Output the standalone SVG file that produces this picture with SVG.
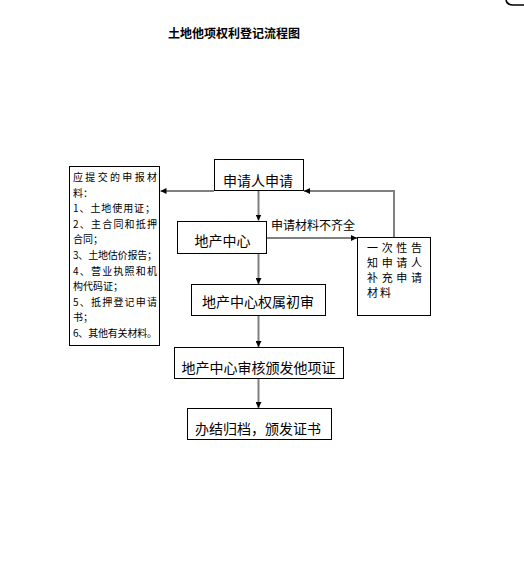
<svg xmlns="http://www.w3.org/2000/svg" width="524" height="578" viewBox="0 0 524 578">
<defs>
<style>
text{font-family:"Noto Sans CJK SC","Liberation Sans",sans-serif;fill:#000}
.box{fill:#fff;stroke:#000;stroke-width:1}
.main{font-size:14px;text-anchor:middle}
.small{font-size:10px}
.mid{font-size:11px}
.con{fill:none;stroke:#808080;stroke-width:2}
</style>
<marker id="ah" viewBox="0 0 10 10" refX="10" refY="5" markerWidth="6" markerHeight="6" markerUnits="userSpaceOnUse" orient="auto">
<path d="M0,0 L10,5 L0,10 Z" fill="#000"/>
</marker>
</defs>
<rect width="524" height="578" fill="#fff"/>
<path d="M506,0 Q507,5 513,5 L524,5" fill="none" stroke="#000" stroke-width="1.5"/>
<text x="168" y="37.5" style="font-size:12px;font-weight:bold">土地他项权利登记流程图</text>

<g id="connectors">
<path class="con" d="M258.5,191 V220.5" marker-end="url(#ah)"/>
<path class="con" d="M214,191 H160.5" marker-end="url(#ah)"/>
<path class="con" d="M267,238 H357" marker-end="url(#ah)"/>
<path class="con" d="M394,237 V191 H304" marker-end="url(#ah)"/>
<path class="con" d="M258.5,254 V284" marker-end="url(#ah)"/>
<path class="con" d="M258.5,316 V347" marker-end="url(#ah)"/>
<path class="con" d="M258.5,379 V408" marker-end="url(#ah)"/>
<text x="271" y="229.5" style="font-size:12px">申请材料不齐全</text>
</g>

<g id="materials">
<rect class="box" x="69.5" y="166.5" width="90" height="179"/>
<text class="small" x="73" y="181" textLength="84" lengthAdjust="spacing">应提交的申报材</text>
<text class="small" x="73" y="196.6">料：</text>
<text class="small" x="73" y="212.2" textLength="82" lengthAdjust="spacing">1、土地使用证；</text>
<text class="small" x="73" y="227.8" textLength="84" lengthAdjust="spacing">2、主合同和抵押</text>
<text class="small" x="73" y="243.4">合同；</text>
<text class="small" x="73" y="259" textLength="84" lengthAdjust="spacing">3、土地估价报告；</text>
<text class="small" x="73" y="274.6" textLength="84" lengthAdjust="spacing">4、营业执照和机</text>
<text class="small" x="73" y="290.2">构代码证；</text>
<text class="small" x="73" y="305.8" textLength="84" lengthAdjust="spacing">5、抵押登记申请</text>
<text class="small" x="73" y="321.4">书；</text>
<text class="small" x="73" y="337" textLength="84" lengthAdjust="spacing">6、其他有关材料。</text>
</g>

<g id="apply">
<rect class="box" x="214.5" y="159.5" width="89" height="31"/>
<text class="main" x="258" y="186">申请人申请</text>
</g>

<g id="center">
<rect class="box" x="177.5" y="221.5" width="89" height="32"/>
<text class="main" x="222.5" y="246">地产中心</text>
</g>

<g id="notify">
<rect class="box" x="357.5" y="237.5" width="73" height="78"/>
<text class="mid" x="367" y="252" textLength="55" lengthAdjust="spacing">一次性告</text>
<text class="mid" x="367" y="267" textLength="55" lengthAdjust="spacing">知申请人</text>
<text class="mid" x="367" y="282" textLength="55" lengthAdjust="spacing">补充申请</text>
<text class="mid" x="367" y="297" textLength="24" lengthAdjust="spacing">材料</text>
</g>

<g id="review">
<rect class="box" x="191.5" y="284.5" width="134" height="31"/>
<text class="main" x="258" y="307">地产中心权属初审</text>
</g>

<g id="issue">
<rect class="box" x="174.5" y="347.5" width="169" height="31"/>
<text class="main" x="258.5" y="373">地产中心审核颁发他项证</text>
</g>

<g id="finish">
<rect class="box" x="187.5" y="408.5" width="144" height="31"/>
<text class="main" x="258" y="434">办结归档，颁发证书</text>
</g>
</svg>
